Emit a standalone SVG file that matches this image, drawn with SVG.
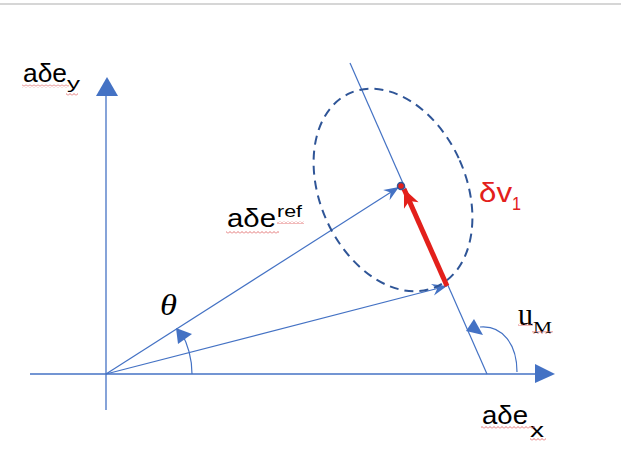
<svg xmlns="http://www.w3.org/2000/svg" width="621" height="459" viewBox="0 0 621 459">
<style>
.ax{stroke:#4472C4;stroke-width:1.3;fill:none}
.vec{stroke:#4472C4;stroke-width:1.2;fill:none}
.head{fill:#4472C4}
.sans{font-family:"Liberation Sans",Arial,sans-serif;fill:#000}
.serif{font-family:"Liberation Serif","Times New Roman",serif;fill:#000}
.sq{fill:url(#squig)}
</style>
<defs>
<marker id="stealth" markerUnits="userSpaceOnUse" markerWidth="20" markerHeight="14" viewBox="-16 -7 18 14" refX="0" refY="0" orient="auto">
<path d="M-15,-6 L0,0 L-15,6 L-10,0 Z" fill="#4472C4"/>
</marker>
<marker id="redhead" markerUnits="userSpaceOnUse" markerWidth="24" markerHeight="20" viewBox="-20 -10 22 20" refX="0" refY="0" orient="auto">
<path d="M-18,-8 L0,0 L-18,8 L-13,0 Z" fill="#E3201B"/>
</marker>
<pattern id="squig" patternUnits="userSpaceOnUse" width="4" height="3">
<polyline points="0,2.5 2,0.5 4,2.5" fill="none" stroke="#E06666" stroke-width="0.9"/>
</pattern>
</defs>
<rect width="621" height="459" fill="#fff"/>
<line x1="0" y1="4" x2="621" y2="4" stroke="#D6D6D6" stroke-width="2"/>

<g id="axes">
<line class="ax" x1="30" y1="374" x2="537" y2="374"/>
<polygon class="head" points="535,364 555,374 535,383"/>
<line class="ax" x1="106" y1="410" x2="106" y2="95"/>
<polygon class="head" points="96,96 107,77 118,96"/>
</g>

<g id="connectors">
<line class="vec" x1="350" y1="63" x2="487" y2="374"/>
<line class="vec" x1="106" y1="374" x2="399" y2="187" marker-end="url(#stealth)"/>
<line class="vec" x1="106" y1="374" x2="447" y2="286" marker-end="url(#stealth)"/>
<path class="vec" d="M192,374 A86,86 0 0 0 181,332"/>
<polygon class="head" points="176,328 178,344 192,334"/>
<path class="vec" d="M517,372 C517,345 503,325 480,327"/>
<polygon class="head" points="466,331 474,319 483,335"/>
</g>

<g id="ellipse">
<ellipse cx="393" cy="190" rx="73" ry="106" transform="rotate(-24 393 190)" fill="none" stroke="#2F5597" stroke-width="2" stroke-dasharray="9 6"/>
</g>

<g id="dv">
<line x1="447" y1="286" x2="404" y2="189" stroke="#E3201B" stroke-width="5" marker-end="url(#redhead)"/>
<circle cx="401" cy="186" r="3.5" fill="#E3201B" stroke="#2F5597" stroke-width="1.5"/>
</g>

<g id="label-ey">
<text class="sans" x="23" y="82" font-size="25" textLength="44" lengthAdjust="spacingAndGlyphs">aδe</text>
<text class="sans" x="67" y="89" font-size="17" textLength="13" lengthAdjust="spacingAndGlyphs">y</text>
<rect class="sq" x="22" y="84.5" width="47" height="3"/>
<rect class="sq" x="66" y="93" width="12" height="3"/>
</g>

<g id="label-eref">
<text class="sans" x="227" y="227" font-size="26" textLength="49" lengthAdjust="spacingAndGlyphs">aδe</text>
<text class="sans" x="277" y="217" font-size="16" textLength="25" lengthAdjust="spacingAndGlyphs">ref</text>
<rect class="sq" x="226" y="231" width="53" height="3"/>
<rect class="sq" x="277" y="221" width="27" height="3"/>
</g>

<g id="label-dv">
<text class="sans" x="479" y="202" font-size="28" textLength="33" lengthAdjust="spacingAndGlyphs" style="fill:#E3201B">δv</text>
<text class="sans" x="512" y="210" font-size="18" textLength="9" lengthAdjust="spacingAndGlyphs" style="fill:#E3201B">1</text>
</g>

<g id="label-ex">
<text class="sans" x="482" y="424" font-size="26" textLength="46" lengthAdjust="spacingAndGlyphs">aδe</text>
<text class="sans" x="530" y="437" font-size="21" textLength="14" lengthAdjust="spacingAndGlyphs">x</text>
<rect class="sq" x="481" y="426" width="54" height="3"/>
<rect class="sq" x="530" y="438" width="16" height="3"/>
</g>

<g id="label-um">
<text class="serif" x="518" y="325" font-size="31" textLength="15" lengthAdjust="spacingAndGlyphs">u</text>
<text class="serif" x="533" y="333" font-size="17" textLength="19" lengthAdjust="spacingAndGlyphs">M</text>
<rect class="sq" x="518" y="323" width="15" height="3"/>
<rect class="sq" x="532" y="331" width="21" height="3"/>
</g>

<g id="label-theta">
<text class="serif" x="160" y="315" font-size="29" font-style="italic" textLength="17" lengthAdjust="spacingAndGlyphs">θ</text>
</g>
</svg>
